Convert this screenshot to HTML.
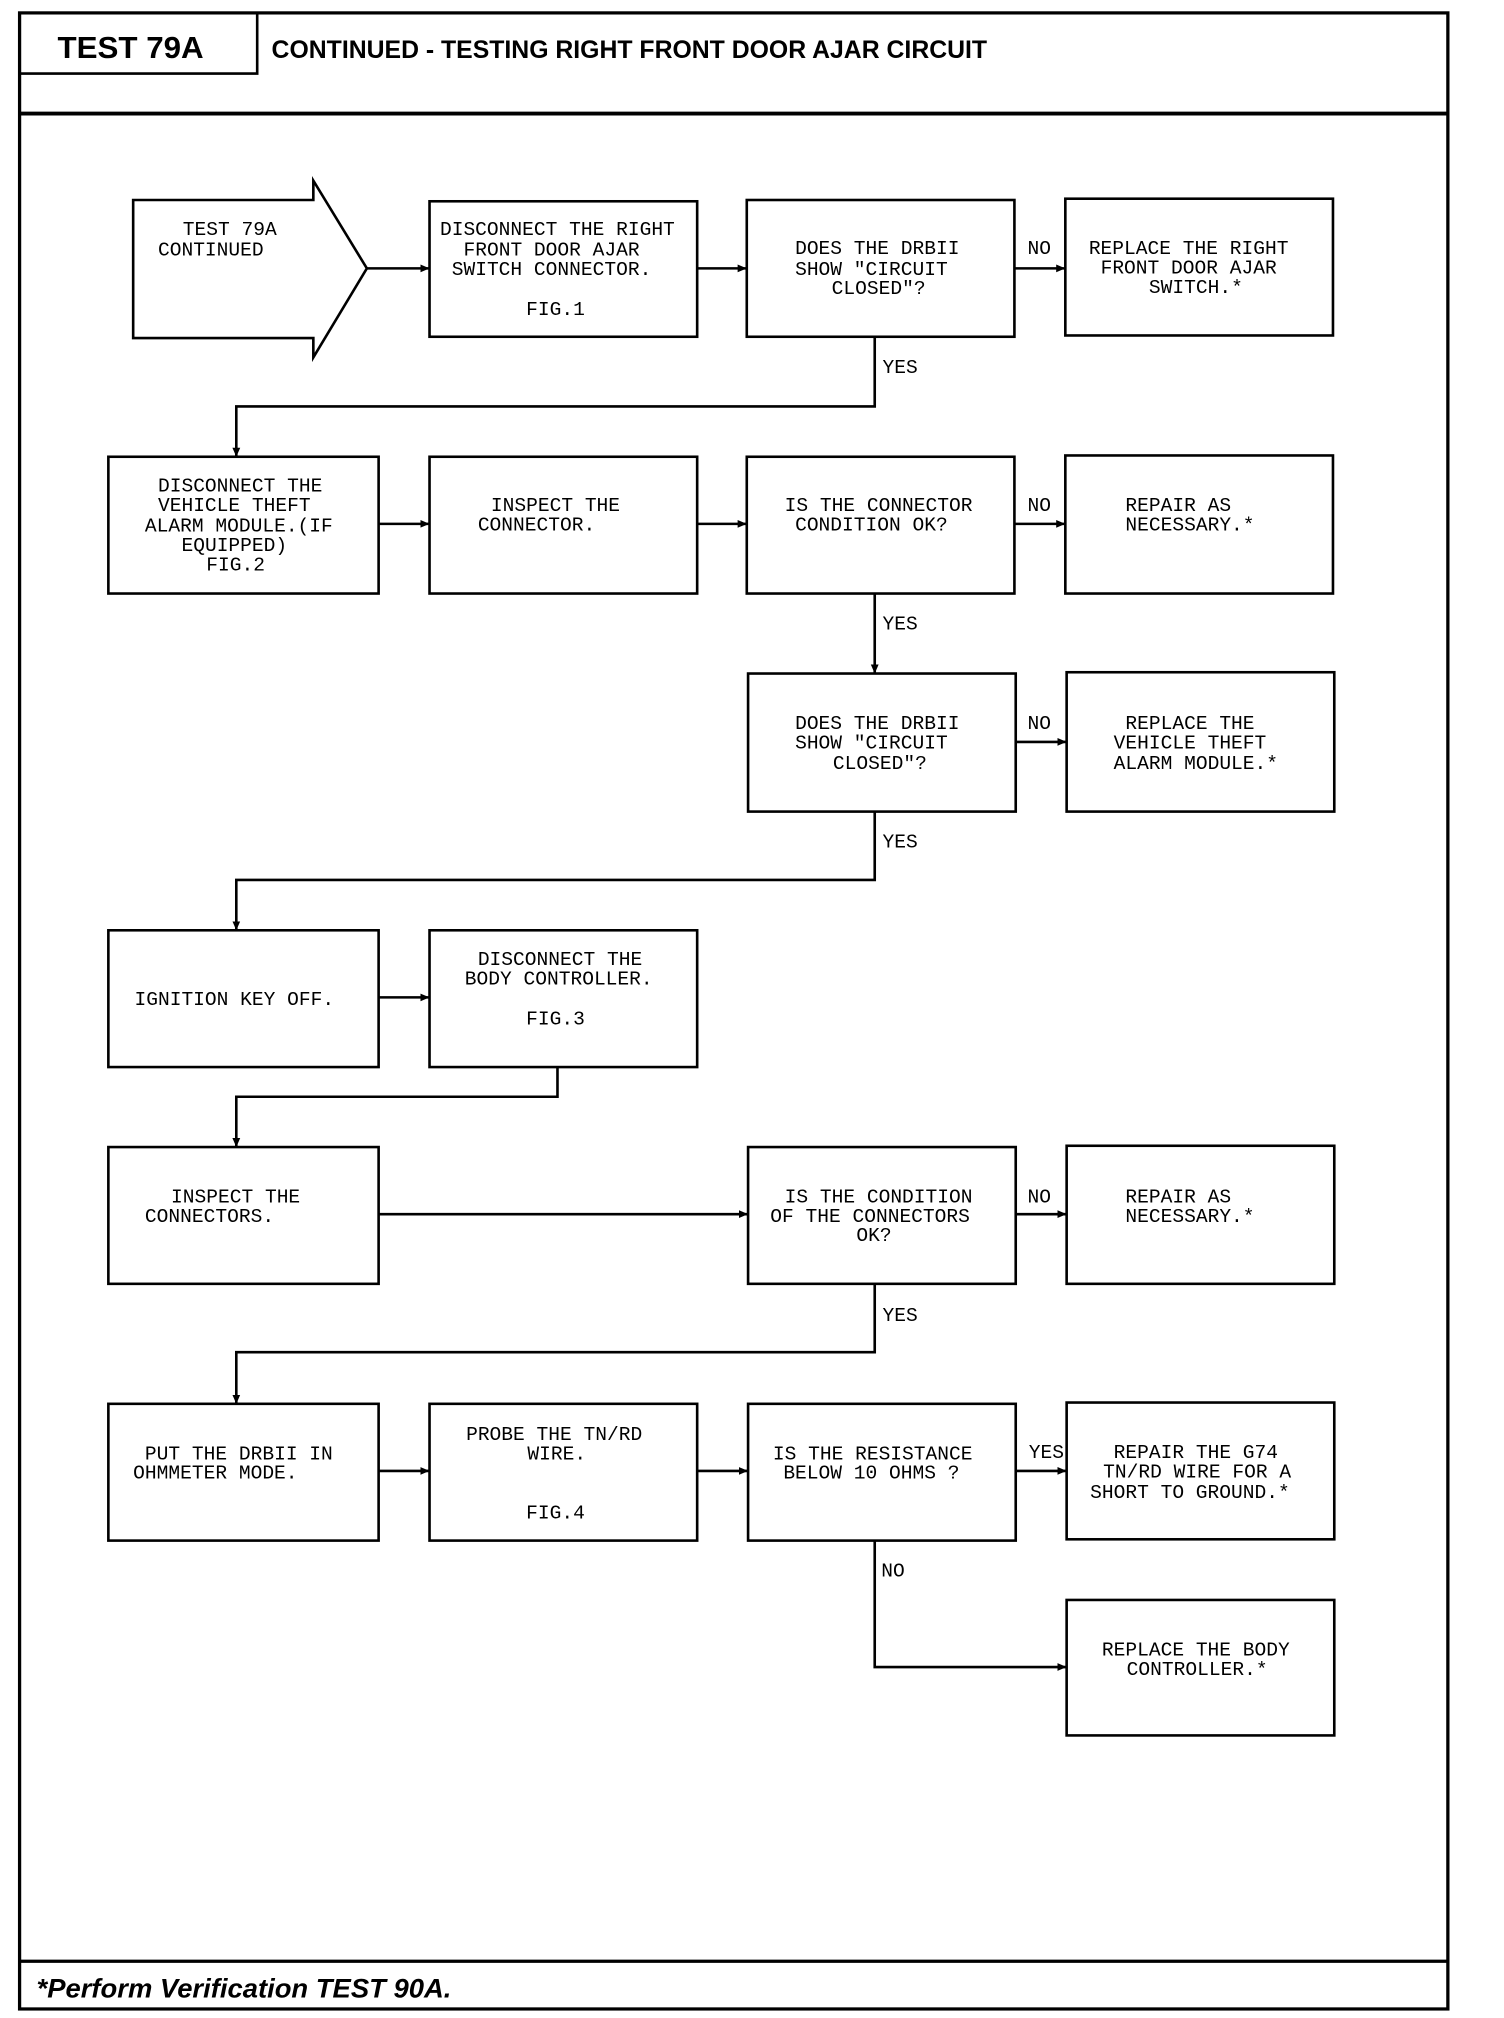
<!DOCTYPE html>
<html><head><meta charset="utf-8"><style>
html,body{margin:0;padding:0;background:#fff;}
svg{display:block;}
text.t{font-family:"Liberation Mono",monospace;font-size:15px;fill:#000;}
</style></head><body>
<svg width="1504" height="2018" viewBox="0 0 1152 1564" preserveAspectRatio="none" xmlns="http://www.w3.org/2000/svg">
<defs><marker id="a" markerWidth="8" markerHeight="8" refX="7" refY="4" orient="auto" markerUnits="userSpaceOnUse"><path d="M0,1 L7,4 L0,7 Z" fill="#000"/></marker></defs>
<g fill="none" stroke="#000" stroke-width="2">
<rect x="15" y="10" width="1094" height="1547" stroke-width="2.5"/>
<path d="M15,57 H197 V10"/>
<line x1="15" y1="88" x2="1109" y2="88" stroke-width="3"/>
<line x1="15" y1="1520" x2="1109" y2="1520" stroke-width="2.5"/>
<!-- row1 -->
<path d="M102,155 H240 V140 L281,208 L240,277 V262 H102 Z"/>
<rect x="329" y="156" width="205" height="105"/>
<rect x="572" y="155" width="205" height="106"/>
<rect x="816" y="154" width="205" height="106"/>
<!-- row2 -->
<rect x="83" y="354" width="207" height="106"/>
<rect x="329" y="354" width="205" height="106"/>
<rect x="572" y="354" width="205" height="106"/>
<rect x="816" y="353" width="205" height="107"/>
<!-- row3 -->
<rect x="573" y="522" width="205" height="107"/>
<rect x="817" y="521" width="205" height="108"/>
<!-- row4 -->
<rect x="83" y="721" width="207" height="106"/>
<rect x="329" y="721" width="205" height="106"/>
<!-- row5 -->
<rect x="83" y="889" width="207" height="106"/>
<rect x="573" y="889" width="205" height="106"/>
<rect x="817" y="888" width="205" height="107"/>
<!-- row6 -->
<rect x="83" y="1088" width="207" height="106"/>
<rect x="329" y="1088" width="205" height="106"/>
<rect x="573" y="1088" width="205" height="106"/>
<rect x="817" y="1087" width="205" height="106"/>
<rect x="817" y="1240" width="205" height="105"/>
</g>
<g fill="none" stroke="#000" stroke-width="2" marker-end="url(#a)">
<line x1="281" y1="208" x2="329" y2="208"/>
<line x1="534" y1="208" x2="572" y2="208"/>
<line x1="777" y1="208" x2="816" y2="208"/>
<path d="M670,261 V315 H181 V354"/>
<line x1="290" y1="406" x2="329" y2="406"/>
<line x1="534" y1="406" x2="572" y2="406"/>
<line x1="777" y1="406" x2="816" y2="406"/>
<line x1="670" y1="460" x2="670" y2="522"/>
<line x1="778" y1="575" x2="817" y2="575"/>
<path d="M670,629 V682 H181 V721"/>
<line x1="290" y1="773" x2="329" y2="773"/>
<path d="M427,827 V850 H181 V889"/>
<line x1="290" y1="941" x2="573" y2="941"/>
<line x1="778" y1="941" x2="817" y2="941"/>
<path d="M670,995 V1048 H181 V1088"/>
<line x1="290" y1="1140" x2="329" y2="1140"/>
<line x1="534" y1="1140" x2="573" y2="1140"/>
<line x1="778" y1="1140" x2="817" y2="1140"/>
<path d="M670,1194 V1292 H817"/>
</g>
<text x="44" y="45" font-family="Liberation Sans,sans-serif" font-weight="bold" font-size="24">TEST 79A</text>
<text x="208" y="45" font-family="Liberation Sans,sans-serif" font-weight="bold" font-size="19">CONTINUED - TESTING RIGHT FRONT DOOR AJAR CIRCUIT</text>
<text x="28" y="1548" font-family="Liberation Sans,sans-serif" font-weight="bold" font-style="italic" font-size="21">*Perform Verification TEST 90A.</text>
<g class="lbl">
<text class="t" x="140" y="182">TEST 79A</text>
<text class="t" x="121" y="198">CONTINUED</text>
<text class="t" x="337" y="182">DISCONNECT THE RIGHT</text>
<text class="t" x="355" y="198">FRONT DOOR AJAR</text>
<text class="t" x="346" y="213">SWITCH CONNECTOR.</text>
<text class="t" x="403" y="244">FIG.1</text>
<text class="t" x="609" y="197">DOES THE DRBII</text>
<text class="t" x="609" y="213">SHOW "CIRCUIT</text>
<text class="t" x="637" y="228">CLOSED"?</text>
<text class="t" x="787" y="197">NO</text>
<text class="t" x="834" y="197">REPLACE THE RIGHT</text>
<text class="t" x="843" y="212">FRONT DOOR AJAR</text>
<text class="t" x="880" y="227">SWITCH.*</text>
<text class="t" x="676" y="289">YES</text>
<text class="t" x="121" y="381">DISCONNECT THE</text>
<text class="t" x="121" y="396">VEHICLE THEFT</text>
<text class="t" x="111" y="412">ALARM MODULE.(IF</text>
<text class="t" x="139" y="427">EQUIPPED)</text>
<text class="t" x="158" y="442">FIG.2</text>
<text class="t" x="376" y="396">INSPECT THE</text>
<text class="t" x="366" y="411">CONNECTOR.</text>
<text class="t" x="601" y="396">IS THE CONNECTOR</text>
<text class="t" x="609" y="411">CONDITION OK?</text>
<text class="t" x="787" y="396">NO</text>
<text class="t" x="862" y="396">REPAIR AS</text>
<text class="t" x="862" y="411">NECESSARY.*</text>
<text class="t" x="676" y="488">YES</text>
<text class="t" x="609" y="565">DOES THE DRBII</text>
<text class="t" x="609" y="580">SHOW "CIRCUIT</text>
<text class="t" x="638" y="596">CLOSED"?</text>
<text class="t" x="787" y="565">NO</text>
<text class="t" x="862" y="565">REPLACE THE</text>
<text class="t" x="853" y="580">VEHICLE THEFT</text>
<text class="t" x="853" y="596">ALARM MODULE.*</text>
<text class="t" x="676" y="657">YES</text>
<text class="t" x="103" y="779">IGNITION KEY OFF.</text>
<text class="t" x="366" y="748">DISCONNECT THE</text>
<text class="t" x="356" y="763">BODY CONTROLLER.</text>
<text class="t" x="403" y="794">FIG.3</text>
<text class="t" x="131" y="932">INSPECT THE</text>
<text class="t" x="111" y="947">CONNECTORS.</text>
<text class="t" x="601" y="932">IS THE CONDITION</text>
<text class="t" x="590" y="947">OF THE CONNECTORS</text>
<text class="t" x="656" y="962">OK?</text>
<text class="t" x="787" y="932">NO</text>
<text class="t" x="862" y="932">REPAIR AS</text>
<text class="t" x="862" y="947">NECESSARY.*</text>
<text class="t" x="676" y="1024">YES</text>
<text class="t" x="111" y="1131">PUT THE DRBII IN</text>
<text class="t" x="102" y="1146">OHMMETER MODE.</text>
<text class="t" x="357" y="1116">PROBE THE TN/RD</text>
<text class="t" x="404" y="1131">WIRE.</text>
<text class="t" x="403" y="1177">FIG.4</text>
<text class="t" x="592" y="1131">IS THE RESISTANCE</text>
<text class="t" x="600" y="1146">BELOW 10 OHMS ?</text>
<text class="t" x="788" y="1130">YES</text>
<text class="t" x="853" y="1130">REPAIR THE G74</text>
<text class="t" x="845" y="1145">TN/RD WIRE FOR A</text>
<text class="t" x="835" y="1161">SHORT TO GROUND.*</text>
<text class="t" x="675" y="1222">NO</text>
<text class="t" x="844" y="1283">REPLACE THE BODY</text>
<text class="t" x="863" y="1298">CONTROLLER.*</text>
</g>
</svg>
</body></html>
